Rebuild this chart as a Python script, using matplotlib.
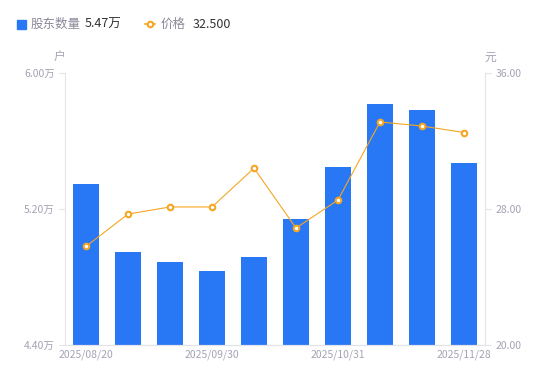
import matplotlib.pyplot as plt
import numpy as np

plt.rcParams['font.family'] = ['Noto Sans CJK SC', 'DejaVu Sans']

dates = ["2025/08/20", "2025/09/05", "2025/09/15", "2025/09/30", "2025/10/10",
         "2025/10/20", "2025/10/31", "2025/11/10", "2025/11/20", "2025/11/28"]
holders = [5.35, 4.95, 4.89, 4.835, 4.915, 5.14, 5.45, 5.82, 5.78, 5.47]  # 万户
price = [25.80, 27.70, 28.12, 28.12, 30.40, 26.88, 28.53, 33.12, 32.88, 32.50]
shown_ticks = [0, 3, 6, 9]

blue = "#2878f5"
orange = "#f5a623"
grey = "#a3a3b5"
axis_c = "#e3e3ea"

fig = plt.figure(figsize=(5.5, 3.81), dpi=100)
ax = fig.add_axes([65 / 550, 1 - 345 / 381, 420 / 550, 272 / 381])
ax2 = ax.twinx()

x = np.arange(len(dates))
ax.bar(x, holders, width=0.6, color=blue, zorder=2)
ax.set_ylim(4.4, 6.0)
ax.set_xlim(-0.5, len(dates) - 0.5)
ax.set_yticks([4.4, 5.2, 6.0])
ax.set_yticklabels(["4.40万", "5.20万", "6.00万"])
ax.set_xticks([x[i] for i in shown_ticks])
ax.set_xticklabels([dates[i] for i in shown_ticks])

ax2.plot(x, price, color=orange, lw=0.8, marker="o", ms=4, mfc="white",
         mec=orange, mew=1.5, zorder=3)
ax2.set_ylim(20, 36)
ax2.set_yticks([20, 28, 36])
ax2.set_yticklabels(["20.00", "28.00", "36.00"])

for a in (ax, ax2):
    for s in a.spines.values():
        s.set_color(axis_c)
    a.spines["top"].set_visible(False)
    a.tick_params(colors=axis_c, labelcolor=grey, labelsize=7.5, length=4, width=0.8)
ax.tick_params(axis="x", length=0, pad=3)
ax2.spines["left"].set_visible(False)
ax.spines["right"].set_visible(False)

fig.text(59 / 550, 1 - 57 / 381, "户", color=grey, fontsize=8.5, ha="center", va="center")
fig.text(490 / 550, 1 - 57 / 381, "元", color=grey, fontsize=8.5, ha="center", va="center")

# legend
fig.patches.append(plt.Rectangle((17 / 550, 1 - 29 / 381), 9 / 550, 9 / 381,
                                 transform=fig.transFigure, color=blue, figure=fig))
fig.text(31 / 550, 1 - 24 / 381, "股东数量", color="#8a8a9a", fontsize=9, va="center")
fig.text(85 / 550, 1 - 24 / 381, "5.47万", color="#333333", fontsize=9, va="center")
fig.add_artist(plt.Line2D([145 / 550, 155 / 550], [1 - 24 / 381] * 2, color=orange, lw=1.2,
                          transform=fig.transFigure))
fig.add_artist(plt.Line2D([150 / 550], [1 - 24 / 381], color=orange, marker="o", ms=4,
                          mfc="white", mew=1.5, transform=fig.transFigure))
fig.text(161 / 550, 1 - 24 / 381, "价格", color="#8a8a9a", fontsize=9, va="center")
fig.text(193 / 550, 1 - 24 / 381, "32.500", color="#333333", fontsize=9, va="center")

fig.savefig("out.png", dpi=100)
